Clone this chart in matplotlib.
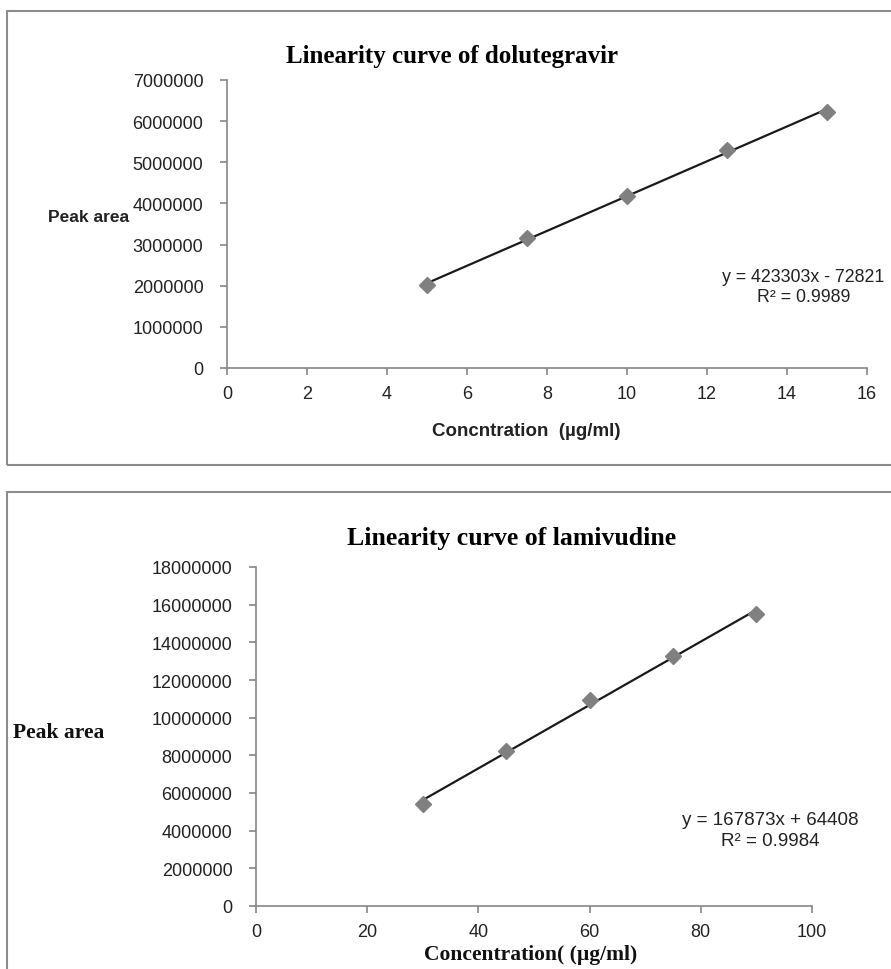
import numpy as np
import matplotlib
matplotlib.use("Agg")
import matplotlib.pyplot as plt
from matplotlib.patches import Rectangle

# ---- data ----
dtg_conc = [5, 7.5, 10, 12.5, 15]
dtg_area = [2018000, 3149000, 4190000, 5300000, 6233000]
dtg_eq = "y = 423303x - 72821"
dtg_r2 = "R² = 0.9989"

lam_conc = [30, 45, 60, 75, 90]
lam_area = [5400000, 8250000, 10950000, 13250000, 15520000]
lam_eq = "y = 167873x + 64408"
lam_r2 = "R² = 0.9984"

dtg_xticks = [0, 2, 4, 6, 8, 10, 12, 14, 16]
dtg_yticks = [0, 1000000, 2000000, 3000000, 4000000, 5000000, 6000000, 7000000]
lam_xticks = [0, 20, 40, 60, 80, 100]
lam_yticks = [0, 2000000, 4000000, 6000000, 8000000, 10000000, 12000000,
              14000000, 16000000, 18000000]

W, H = 891, 970
fig = plt.figure(figsize=(W / 100, H / 100), dpi=100)

sans = ["Liberation Sans", "DejaVu Sans"]
serif = ["Liberation Serif", "DejaVu Serif"]
spine_c = "#868686"
mark_c = "#808080"
txt_c = "#222222"

def px(x0, y0, x1, y1):
    # pixel box -> figure fraction [left, bottom, width, height]
    return [x0 / W, 1 - y1 / H, (x1 - x0) / W, (y1 - y0) / H]

# outer frames
fig.patches.append(Rectangle((7 / W, 1 - 466 / H), 900 / W, (466 - 12) / H,
                             transform=fig.transFigure, fill=False,
                             edgecolor="#8c8c8c", linewidth=1.5))
fig.patches.append(Rectangle((7 / W, -0.05), 900 / W, 1 - 493 / H + 0.05,
                             transform=fig.transFigure, fill=False,
                             edgecolor="#8c8c8c", linewidth=1.5))

def style(ax, xticks, yticks, fs):
    for s in ["top", "right"]:
        ax.spines[s].set_visible(False)
    for s in ["left", "bottom"]:
        ax.spines[s].set_color(spine_c)
        ax.spines[s].set_linewidth(1.2)
    ax.set_xticks(xticks)
    ax.set_yticks(yticks)
    ax.set_xticklabels([str(t) for t in xticks], fontsize=fs, family=sans, color=txt_c)
    ax.set_yticklabels([str(t) for t in yticks], fontsize=fs, family=sans, color=txt_c)
    ax.tick_params(axis="both", direction="out", length=5, width=1.2, color=spine_c)
    ax.tick_params(axis="x", pad=7)
    ax.tick_params(axis="y", pad=12)
    ax.set_xlim(xticks[0], xticks[-1])
    ax.set_ylim(yticks[0], yticks[-1])

# ---- top chart ----
ax1 = fig.add_axes(px(227, 81, 867, 369))
style(ax1, dtg_xticks, dtg_yticks, 13)
c1 = np.polyfit(dtg_conc, dtg_area, 1)
ax1.plot(dtg_conc, np.polyval(c1, dtg_conc), color="#1a1a1a", lw=1.6, zorder=2)
ax1.plot(dtg_conc, dtg_area, linestyle="none", marker="D", ms=8,
         color=mark_c, mec=mark_c, zorder=3, clip_on=False)
fig.text(452 / W, 1 - 56 / H, "Linearity curve of dolutegravir", family=serif,
         fontsize=18, fontweight="bold", ha="center", va="center")
fig.text(48 / W, 1 - 218 / H, "Peak area", family=sans, fontsize=12.5,
         fontweight="bold", ha="left", va="center", color=txt_c)
fig.text(526 / W, 1 - 432 / H, "Concntration  (µg/ml)", family=sans, fontsize=13.5,
         fontweight="bold", ha="center", va="center", color=txt_c)
fig.text(722 / W, 1 - 277 / H, dtg_eq, family=sans, fontsize=12.8,
         ha="left", va="center", color=txt_c)
fig.text(804 / W, 1 - 298 / H, dtg_r2, family=sans, fontsize=12.8,
         ha="center", va="center", color=txt_c)

# ---- bottom chart ----
ax2 = fig.add_axes(px(256, 568, 812, 907))
style(ax2, lam_xticks, lam_yticks, 13)
c2 = np.polyfit(lam_conc, lam_area, 1)
ax2.plot(lam_conc, np.polyval(c2, lam_conc), color="#1a1a1a", lw=1.6, zorder=2)
ax2.plot(lam_conc, lam_area, linestyle="none", marker="D", ms=8,
         color=mark_c, mec=mark_c, zorder=3, clip_on=False)
fig.text(512 / W, 1 - 538 / H, "Linearity curve of lamivudine", family=serif,
         fontsize=18.5, fontweight="bold", ha="center", va="center")
fig.text(13 / W, 1 - 733 / H, "Peak area", family=serif, fontsize=15.5,
         fontweight="bold", ha="left", va="center", color="#111111")
fig.text(531 / W, 1 - 955 / H, "Concentration( (µg/ml)", family=serif, fontsize=15.5,
         fontweight="bold", ha="center", va="center", color="#111111")
fig.text(770 / W, 1 - 821 / H, lam_eq, family=sans, fontsize=13.5,
         ha="center", va="center", color=txt_c)
fig.text(770 / W, 1 - 842 / H, lam_r2, family=sans, fontsize=13.5,
         ha="center", va="center", color=txt_c)

fig.savefig("out.png", dpi=100)
